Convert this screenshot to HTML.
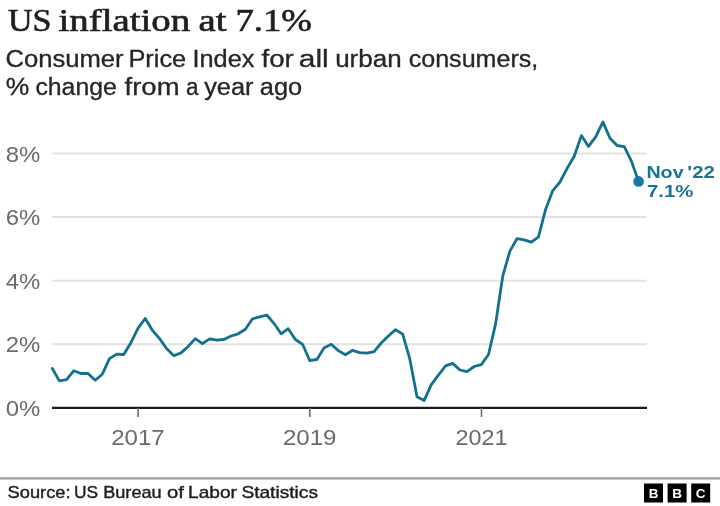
<!DOCTYPE html>
<html lang="en"><head><meta charset="utf-8"><title>US inflation at 7.1%</title>
<style>
html,body{margin:0;padding:0;background:#fff;}
body{width:720px;height:506px;overflow:hidden;position:relative;}
svg{position:absolute;left:0;top:0;display:block;}
text{font-family:"Liberation Sans",Arial,sans-serif;}
.title{font-family:"Liberation Serif","Times New Roman",serif;font-size:32.5px;fill:#1f1f1f;stroke:#1f1f1f;stroke-width:0.65px;}
.sub{font-size:23px;fill:#262626;stroke:#262626;stroke-width:0.3px;}
.tick{font-size:22.4px;fill:#6a6a6a;}
.src{font-size:16.4px;fill:#1e1e1e;stroke:#1e1e1e;stroke-width:0.4px;}
.lab{font-size:16.3px;font-weight:bold;fill:#1a7494;}
.bbc{font-size:13.5px;font-weight:bold;fill:#fff;}
</style></head><body>
<svg width="720" height="506" viewBox="0 0 720 506">
<rect width="720" height="506" fill="#fff"/>
<text y="31.4" class="title"><tspan x="8.0" textLength="43.5" lengthAdjust="spacingAndGlyphs">US</tspan> <tspan x="58.4" textLength="131.9" lengthAdjust="spacingAndGlyphs">inflation</tspan> <tspan x="198.6" textLength="28.0" lengthAdjust="spacingAndGlyphs">at</tspan> <tspan x="235.4" textLength="76.5" lengthAdjust="spacingAndGlyphs">7.1%</tspan></text>
<text y="66.8" class="sub"><tspan x="5.4" textLength="118.2" lengthAdjust="spacingAndGlyphs">Consumer</tspan> <tspan x="128.4" textLength="57.8" lengthAdjust="spacingAndGlyphs">Price</tspan> <tspan x="192.5" textLength="61.9" lengthAdjust="spacingAndGlyphs">Index</tspan> <tspan x="261.6" textLength="32.2" lengthAdjust="spacingAndGlyphs">for</tspan> <tspan x="298.8" textLength="29.9" lengthAdjust="spacingAndGlyphs">all</tspan> <tspan x="335.2" textLength="66.4" lengthAdjust="spacingAndGlyphs">urban</tspan> <tspan x="408.7" textLength="129.6" lengthAdjust="spacingAndGlyphs">consumers,</tspan></text>
<text y="94.8" class="sub"><tspan x="5.8" textLength="23.5" lengthAdjust="spacingAndGlyphs">%</tspan> <tspan x="35.4" textLength="81.4" lengthAdjust="spacingAndGlyphs">change</tspan> <tspan x="124.6" textLength="54.9" lengthAdjust="spacingAndGlyphs">from</tspan> <tspan x="186.0" textLength="12.5" lengthAdjust="spacingAndGlyphs">a</tspan> <tspan x="204.2" textLength="49.3" lengthAdjust="spacingAndGlyphs">year</tspan> <tspan x="259.8" textLength="42.3" lengthAdjust="spacingAndGlyphs">ago</tspan></text>
<line x1="52.2" x2="646.8" y1="344.3" y2="344.3" stroke="#e2e2e2" stroke-width="2"/><line x1="52.2" x2="646.8" y1="280.7" y2="280.7" stroke="#e2e2e2" stroke-width="2"/><line x1="52.2" x2="646.8" y1="217.0" y2="217.0" stroke="#e2e2e2" stroke-width="2"/><line x1="52.2" x2="646.8" y1="153.4" y2="153.4" stroke="#e2e2e2" stroke-width="2"/>
<text x="5.7" y="416.0" textLength="34.6" lengthAdjust="spacingAndGlyphs" class="tick">0%</text><text x="5.7" y="352.4" textLength="34.6" lengthAdjust="spacingAndGlyphs" class="tick">2%</text><text x="5.7" y="288.8" textLength="34.6" lengthAdjust="spacingAndGlyphs" class="tick">4%</text><text x="5.7" y="225.1" textLength="34.6" lengthAdjust="spacingAndGlyphs" class="tick">6%</text><text x="5.7" y="161.5" textLength="34.6" lengthAdjust="spacingAndGlyphs" class="tick">8%</text>
<line x1="52" x2="647" y1="407.9" y2="407.9" stroke="#1c1c1c" stroke-width="2.2"/>
<line x1="138.1" x2="138.1" y1="408" y2="417" stroke="#6e6e6e" stroke-width="1.6"/><text x="111.2" y="444.9" textLength="53.5" lengthAdjust="spacingAndGlyphs" class="tick">2017</text><line x1="309.8" x2="309.8" y1="408" y2="417" stroke="#6e6e6e" stroke-width="1.6"/><text x="282.9" y="444.9" textLength="53.5" lengthAdjust="spacingAndGlyphs" class="tick">2019</text><line x1="481.5" x2="481.5" y1="408" y2="417" stroke="#6e6e6e" stroke-width="1.6"/><text x="455.4" y="444.9" textLength="52" lengthAdjust="spacingAndGlyphs" class="tick">2021</text>
<path d="M52.3,368.5 L59.4,380.9 L66.6,379.6 L73.8,370.7 L80.9,373.5 L88.0,373.5 L95.2,380.2 L102.3,374.2 L109.5,358.6 L116.7,354.1 L123.8,354.5 L130.9,342.7 L138.1,328.1 L145.2,318.5 L152.4,330.3 L159.6,338.6 L166.7,348.7 L173.9,355.7 L181.0,352.9 L188.1,346.5 L195.3,338.6 L202.4,343.6 L209.6,338.9 L216.8,340.1 L223.9,339.5 L231.1,336.0 L238.2,333.8 L245.4,329.3 L252.5,318.8 L259.7,316.9 L266.8,315.0 L273.9,323.3 L281.1,333.8 L288.2,328.7 L295.4,339.5 L302.6,344.3 L309.7,360.5 L316.9,359.5 L324.0,348.1 L331.2,344.3 L338.3,350.6 L345.5,354.8 L352.6,350.3 L359.8,352.6 L366.9,353.2 L374.1,351.6 L381.2,343.0 L388.4,336.0 L395.5,329.6 L402.7,334.1 L409.8,358.9 L417.0,396.8 L424.1,400.6 L431.3,384.7 L438.4,375.1 L445.6,365.9 L452.7,363.4 L459.9,370.0 L467.0,371.6 L474.2,366.5 L481.3,364.6 L488.5,354.5 L495.6,323.9 L502.8,275.9 L509.9,251.1 L517.0,238.7 L524.2,239.9 L531.4,242.2 L538.5,236.8 L545.6,209.4 L552.8,190.6 L560.0,182.0 L567.1,168.4 L574.2,156.3 L581.4,135.6 L588.5,146.4 L595.7,136.9 L602.9,121.9 L610.0,138.2 L617.1,145.5 L624.3,146.7 L631.4,161.1 L638.6,181.4" fill="none" stroke="#14708f" stroke-width="2.8" stroke-linejoin="round" stroke-linecap="round"/>
<circle cx="638.6" cy="181.4" r="5.3" fill="#177aa3"/>
<text y="178.3" class="lab"><tspan x="646.4" textLength="37.2" lengthAdjust="spacingAndGlyphs">Nov</tspan> <tspan x="687.3" textLength="27.5" lengthAdjust="spacingAndGlyphs">&#39;22</tspan></text>
<text y="196.9" class="lab"><tspan x="646.9" textLength="46.5" lengthAdjust="spacingAndGlyphs">7.1%</tspan></text>
<rect x="0" y="477.2" width="720" height="2.4" fill="#a0a0a0"/>
<text y="498.0" class="src"><tspan x="7.6" textLength="62.9" lengthAdjust="spacingAndGlyphs">Source:</tspan> <tspan x="73.9" textLength="24.1" lengthAdjust="spacingAndGlyphs">US</tspan> <tspan x="103.2" textLength="58.5" lengthAdjust="spacingAndGlyphs">Bureau</tspan> <tspan x="166.9" textLength="16.9" lengthAdjust="spacingAndGlyphs">of</tspan> <tspan x="188.1" textLength="48.8" lengthAdjust="spacingAndGlyphs">Labor</tspan> <tspan x="241.4" textLength="76.6" lengthAdjust="spacingAndGlyphs">Statistics</tspan></text>
<g>
<rect x="644" y="483.5" width="19" height="19" fill="#000"/>
<rect x="667.6" y="483.5" width="19" height="19" fill="#000"/>
<rect x="691.2" y="483.5" width="19" height="19" fill="#000"/>
<text x="653.5" y="498" text-anchor="middle" class="bbc">B</text>
<text x="677.1" y="498" text-anchor="middle" class="bbc">B</text>
<text x="700.7" y="498" text-anchor="middle" class="bbc">C</text>
</g>
</svg>
</body></html>
